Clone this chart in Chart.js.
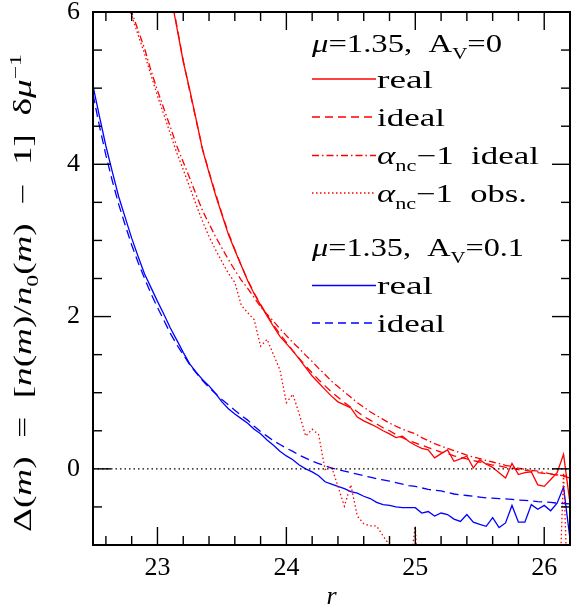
<!DOCTYPE html>
<html lang="en">
<head>
<meta charset="UTF-8">
<title>Delta(m) vs r</title>
<script src="https://cdn.jsdelivr.net/npm/chart.js@4.4.1/dist/chart.umd.min.js"></script>
<style>
  html, body { margin: 0; padding: 0; background: #fff; }
  #wrap { position: relative; width: 581px; height: 613px; }
  #wrap canvas { position: absolute; left: 0; top: 0; }
  #marks { pointer-events: none; }
</style>
</head>
<body>
<div id="wrap">
  <canvas id="chart" width="581" height="613"></canvas>
  <canvas id="marks" width="581" height="613"></canvas>
</div>
<script>
// magnitude bins (r), step 0.05
const r = [22.5, 22.55, 22.6, 22.65, 22.7, 22.75, 22.8, 22.85, 22.9, 22.95,
           23.0, 23.05, 23.1, 23.15, 23.2, 23.25, 23.3, 23.35, 23.4, 23.45,
           23.5, 23.55, 23.6, 23.65, 23.7, 23.75, 23.8, 23.85, 23.9, 23.95,
           24.0, 24.05, 24.1, 24.15, 24.2, 24.25, 24.3, 24.35, 24.4, 24.45,
           24.5, 24.55, 24.6, 24.65, 24.7, 24.75, 24.8, 24.85, 24.9, 24.95,
           25.0, 25.05, 25.1, 25.15, 25.2, 25.25, 25.3, 25.35, 25.4, 25.45,
           25.5, 25.55, 25.6, 25.65, 25.7, 25.75, 25.8, 25.85, 25.9, 25.95,
           26.0, 26.05, 26.1, 26.15, 26.2];

// mu=1.35, Av=0
const redReal = [null, null, null, null, null, null, null, null, null, null,
                 null, 6.7, 6.25, 5.8, 5.35, 4.98, 4.59, 4.19, 3.89, 3.6,
                 3.34, 3.08, 2.87, 2.67, 2.47, 2.30, 2.15, 2.01, 1.87, 1.74,
                 1.645, 1.55, 1.44, 1.33, 1.22, 1.13, 1.04, 0.955, 0.88, 0.84,
                 0.80, 0.68, 0.63, 0.59, 0.55, 0.50, 0.46, 0.41, 0.43, 0.36,
                 0.31, 0.27, 0.25, 0.145, 0.2, 0.25, 0.1, 0.13, 0.166, 0.013,
                 0.12, 0.06, 0.02, -0.05, -0.12, 0.07, -0.075, -0.05, -0.04, -0.21,
                 -0.23, -0.14, -0.05, 0.19, -0.45];
const redIdeal = [null, null, null, null, null, null, null, null, null, null,
                  null, 6.75, 6.28, 5.82, 5.36, 4.96, 4.58, 4.2, 3.9, 3.62,
                  3.35, 3.1, 2.88, 2.67, 2.48, 2.31, 2.16, 2.02, 1.89, 1.77,
                  1.66, 1.55, 1.45, 1.35, 1.26, 1.17, 1.09, 1.01, 0.94, 0.87,
                  0.81, 0.75, 0.69, 0.64, 0.59, 0.54, 0.5, 0.45, 0.41, 0.37,
                  0.34, 0.31, 0.28, 0.25, 0.22, 0.2, 0.17, 0.15, 0.13, 0.11,
                  0.09, 0.07, 0.05, 0.04, 0.02, 0.01, -0.01, -0.02, -0.03, -0.05,
                  -0.06, -0.07, -0.08, -0.1, -0.12];
const alphaIdeal = [null, null, null, null, 6.6, 6.3, 6.0, 5.76, 5.52, 5.23,
                    4.97, 4.73, 4.49, 4.24, 4.03, 3.82, 3.6, 3.39, 3.22, 3.05,
                    2.90, 2.75, 2.61, 2.48, 2.37, 2.25, 2.13, 2.03, 1.94, 1.84,
                    1.75, 1.66, 1.58, 1.49, 1.41, 1.32, 1.24, 1.15, 1.08, 1.01,
                    0.94, 0.87, 0.81, 0.75, 0.70, 0.65, 0.60, 0.56, 0.52, 0.49,
                    0.46, 0.41, 0.37, 0.33, 0.30, 0.27, 0.24, 0.21, 0.18, 0.155,
                    0.135, 0.11, 0.09, 0.07, 0.045, 0.03, 0.01, -0.005, -0.02, -0.03,
                    -0.05, -0.065, -0.08, -0.09, -0.1];
const alphaObs = [null, null, null, null, 6.55, 6.25, 5.95, 5.7, 5.45, 5.17,
                  4.9, 4.65, 4.4, 4.15, 3.93, 3.7, 3.47, 3.25, 3.05, 2.88,
                  2.72, 2.57, 2.45, 2.15, 2.05, 1.96, 1.61, 1.70, 1.5, 1.3,
                  0.87, 0.98, 0.72, 0.43, 0.52, 0.45, -0.01, 0.03, -0.23, -0.49,
                  -0.21, -0.62, -0.72, -0.75, -0.75, -0.88, -1.0, -1.3, -1.6, -1.4,
                  -0.75, -2.5, null, null, null, null, null, null, null, null,
                  null, null, null, null, null, null, null, null, null, null,
                  null, null, -2.5, -0.05, -2.5];

// mu=1.35, Av=0.1
const blueReal = [5.03, 4.63, 4.24, 3.9, 3.57, 3.3, 3.03, 2.79, 2.56, 2.38,
                  2.2, 2.03, 1.85, 1.69, 1.53, 1.38, 1.27, 1.17, 1.09, 0.99,
                  0.88, 0.79, 0.72, 0.66, 0.60, 0.52, 0.46, 0.38, 0.31, 0.23,
                  0.17, 0.12, 0.05, 0.0, -0.04, -0.09, -0.17, -0.2, -0.23, -0.26,
                  -0.3, -0.32, -0.36, -0.39, -0.44, -0.47, -0.48, -0.5, -0.51, -0.51,
                  -0.51, -0.58, -0.56, -0.62, -0.58, -0.6, -0.66, -0.69, -0.60, -0.70,
                  -0.73, -0.755, -0.64, -0.77, -0.71, -0.48, -0.70, -0.70, -0.47, -0.53,
                  -0.48, -0.55, -0.45, -0.24, -0.92];
const blueIdeal = [4.92, 4.5, 4.12, 3.78, 3.47, 3.2, 2.94, 2.71, 2.5, 2.3,
                   2.12, 1.95, 1.78, 1.63, 1.5, 1.37, 1.26, 1.16, 1.07, 0.99,
                   0.91, 0.84, 0.77, 0.70, 0.64, 0.56, 0.49, 0.43, 0.37, 0.32,
                   0.27, 0.23, 0.18, 0.14, 0.10, 0.07, 0.04, 0.01, -0.01, -0.03,
                   -0.05, -0.07, -0.09, -0.11, -0.13, -0.145, -0.16, -0.18, -0.2, -0.22,
                   -0.23, -0.25, -0.27, -0.28, -0.29, -0.31, -0.33, -0.34, -0.35, -0.36,
                   -0.37, -0.38, -0.385, -0.39, -0.395, -0.40, -0.41, -0.415, -0.42, -0.43,
                   -0.435, -0.44, -0.45, -0.455, -0.46];

const zeroX = [22.5, 26.2];
const zeroY = [0, 0];

const xTickLabels = [23, 24, 25, 26];
const yTickLabels = [0, 2, 4, 6];

const RED = '#ff0000', BLUE = '#0000ff';
const SERIF = '"Liberation Serif", "DejaVu Serif", serif';

function pts(xs, ys) {
  return xs.map((x, i) => ({ x: x, y: ys[i] }));
}

function series(label, ys, color, dash) {
  return {
    label: label,
    data: pts(r, ys),
    borderColor: color,
    borderWidth: 1.3,
    borderDash: dash,
    pointRadius: 0,
    tension: 0,
    fill: false
  };
}

// text made of runs: n = normal, i = italic, sub / sup = small shifted
function runFont(style, size) {
  if (style === 'i') return 'italic ' + size + 'px ' + SERIF;
  if (style === 'sub' || style === 'sup') return Math.round(size * 0.65) + 'px ' + SERIF;
  return size + 'px ' + SERIF;
}
function runsWidth(ctx, runs, size) {
  let w = 0;
  runs.forEach(([t, s]) => { ctx.font = runFont(s, size); w += ctx.measureText(t).width; });
  return w;
}
function drawRuns(ctx, runs, size, width) {
  const sx = width ? width / runsWidth(ctx, runs, size) : 1;
  ctx.save();
  ctx.scale(sx, 1);
  let x = 0;
  runs.forEach(([t, s]) => {
    ctx.font = runFont(s, size);
    let dy = 0;
    if (s === 'sub') dy = size * 0.28;
    if (s === 'sup') dy = -size * 0.42;
    ctx.fillText(t, x, dy);
    x += ctx.measureText(t).width;
  });
  ctx.restore();
}

const legendRows = [
  { runs: [['μ', 'i'], ['=1.35,  A', 'n'], ['V', 'sub'], ['=0', 'n']], x: 312, base: 52, w: 190 },
  { runs: [['real', 'n']], x: 377, base: 88, w: 56, color: RED, dash: [], ly: 79 },
  { runs: [['ideal', 'n']], x: 377, base: 126, w: 68, color: RED, dash: [8, 5], ly: 117 },
  { runs: [['α', 'i'], ['nc', 'sub'], ['−1  ideal', 'n']], x: 377, base: 164, w: 162, color: RED, dash: [7, 3, 1.5, 3], ly: 155.5 },
  { runs: [['α', 'i'], ['nc', 'sub'], ['−1  obs.', 'n']], x: 377, base: 202, w: 150, color: RED, dash: [1.5, 2.5], ly: 193 },
  { runs: [['μ', 'i'], ['=1.35,  A', 'n'], ['V', 'sub'], ['=0.1', 'n']], x: 312, base: 256, w: 212 },
  { runs: [['real', 'n']], x: 377, base: 294, w: 56, color: BLUE, dash: [], ly: 285.5 },
  { runs: [['ideal', 'n']], x: 377, base: 332, w: 68, color: BLUE, dash: [8, 5], ly: 323 }
];

const yTitleRuns = [['Δ(', 'n'], ['m', 'i'], [')  =  [', 'n'], ['n', 'i'], ['(', 'n'], ['m', 'i'],
                    [')/', 'n'], ['n', 'i'], ['0', 'sub'], ['(', 'n'], ['m', 'i'],
                    [')  −  1]  δ', 'n'], ['μ', 'i'], ['−1', 'sup']];

// frame and inward ticks, placed with the chart's own scales
function drawMarks(chart, ctx) {
  const xs = chart.scales.x, ys = chart.scales.y;
  const L = xs.getPixelForValue(xs.min), R = xs.getPixelForValue(xs.max);
  const T = ys.getPixelForValue(ys.max), B = ys.getPixelForValue(ys.min);
  ctx.save();
  ctx.fillStyle = '#000';
  for (let k = 113; k <= 131; k++) {
    const px = xs.getPixelForValue(k / 5);
    const len = (k % 5 === 0) ? 18 : 9;
    ctx.fillRect(px - 0.7, B - len, 1.4, len);
    ctx.fillRect(px - 0.7, T, 1.4, len);
  }
  for (let k = -1; k <= 12; k++) {
    const py = ys.getPixelForValue(k / 2);
    const len = (k % 4 === 0) ? 18 : 9;
    ctx.fillRect(L, py - 0.7, len, 1.4);
    ctx.fillRect(R - len, py - 0.7, len, 1.4);
  }
  ctx.fillRect(L - 1, T - 1, R - L + 2, 2);
  ctx.fillRect(L - 1, B - 1, R - L + 2, 2);
  ctx.fillRect(L - 1, T - 1, 2, B - T + 2);
  ctx.fillRect(R - 1, T - 1, 2, B - T + 2);
  ctx.restore();
}

const decor = {
  id: 'decor',
  afterDraw(chart) {
    const ctx = chart.ctx;
    ctx.save();
    ctx.fillStyle = '#000';
    ctx.textBaseline = 'alphabetic';
    ctx.textAlign = 'left';

    legendRows.forEach(row => {
      if (row.color) {
        ctx.strokeStyle = row.color;
        ctx.lineWidth = 1.3;
        ctx.setLineDash(row.dash);
        ctx.beginPath();
        ctx.moveTo(312, row.ly);
        ctx.lineTo(376, row.ly);
        ctx.stroke();
        ctx.setLineDash([]);
      }
      ctx.save();
      ctx.translate(row.x, row.base);
      drawRuns(ctx, row.runs, 25, row.w);
      ctx.restore();
    });

    // y axis title, rotated
    ctx.save();
    ctx.translate(31, 532);
    ctx.rotate(-Math.PI / 2);
    drawRuns(ctx, yTitleRuns, 25, 478);
    ctx.restore();
    ctx.restore();
  }
};

const chart = new Chart(document.getElementById('chart'), {
  type: 'line',
  data: {
    datasets: [
      {
        label: 'zero',
        data: pts(zeroX, zeroY),
        borderColor: '#000',
        borderWidth: 1.3,
        borderDash: [1.5, 3],
        pointRadius: 0
      },
      series('real (Av=0)', redReal, RED, []),
      series('ideal (Av=0)', redIdeal, RED, [8, 5]),
      series('alpha_nc-1 ideal', alphaIdeal, RED, [7, 3, 1.5, 3]),
      series('alpha_nc-1 obs.', alphaObs, RED, [1.5, 2.5]),
      series('real (Av=0.1)', blueReal, BLUE, []),
      series('ideal (Av=0.1)', blueIdeal, BLUE, [9, 5])
    ]
  },
  options: {
    responsive: false,
    animation: false,
    devicePixelRatio: 1,
    layout: { padding: { top: 12, right: 11, left: 0, bottom: 0 } },
    plugins: {
      legend: { display: false },
      tooltip: { enabled: false }
    },
    scales: {
      x: {
        type: 'linear',
        min: 22.5,
        max: 26.2,
        afterBuildTicks: s => { s.ticks = xTickLabels.map(v => ({ value: v })); },
        afterFit: s => { s.height = 68; s.paddingLeft = 0; s.paddingRight = 0; },
        grid: { display: false, drawTicks: false },
        border: { display: true, color: '#000', width: 2 },
        ticks: { color: '#000', font: { family: SERIF, size: 26 }, padding: 8, maxRotation: 0, autoSkip: false },
        title: { display: true, text: 'r', color: '#000', font: { family: SERIF, size: 26, style: 'italic' }, padding: { top: 0, bottom: 0 } }
      },
      y: {
        min: -1,
        max: 6,
        afterBuildTicks: s => { s.ticks = yTickLabels.map(v => ({ value: v })); },
        afterFit: s => { s.width = 93; s.paddingTop = 0; s.paddingBottom = 0; },
        grid: { display: false, drawTicks: false },
        border: { display: true, color: '#000', width: 2 },
        ticks: { color: '#000', font: { family: SERIF, size: 26 }, padding: 13, autoSkip: false }
      }
    }
  },
  plugins: [decor]
});

// frame and tick marks on a separate layer above the chart
drawMarks(chart, document.getElementById('marks').getContext('2d'));
</script>
</body>
</html>
